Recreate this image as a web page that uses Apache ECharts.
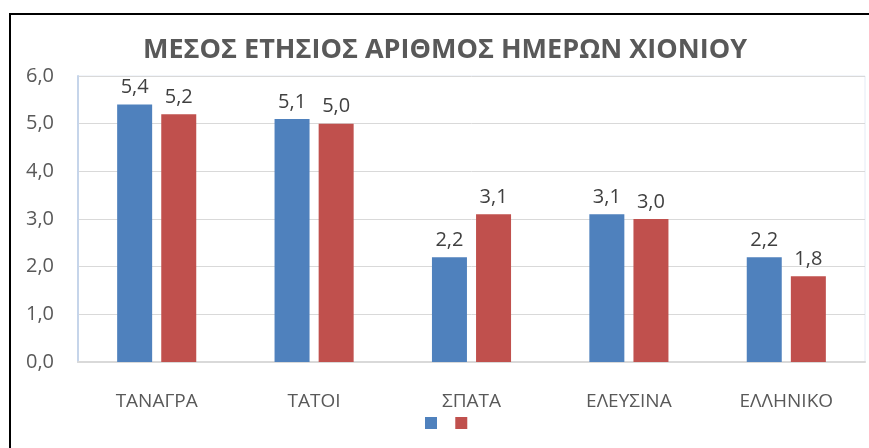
<!DOCTYPE html>
<html>
<head>
<meta charset="utf-8">
<script src="https://cdn.jsdelivr.net/npm/echarts@6/dist/echarts.min.js"></script>
<style>
  html, body { margin: 0; padding: 0; background: #fff; }
  #chart { width: 869px; height: 448px; }
</style>
</head>
<body>
<div id="chart"></div>
<script>
const categories = ['ΤΑΝΑΓΡΑ', 'ΤΑΤΟΙ', 'ΣΠΑΤΑ', 'ΕΛΕΥΣΙΝΑ', 'ΕΛΛΗΝΙΚΟ']
const seriesA = [5.4, 5.1, 2.2, 3.1, 2.2]
const seriesB = [5.2, 5.0, 3.1, 3.0, 1.8]

const font = 'Open Sans, Noto Sans, sans-serif'
const fmt = v => Number(v).toFixed(1).replace('.', ',')

const chart = echarts.init(document.getElementById('chart'))

chart.setOption({
  animation: false,
  title: {
    text: 'ΜΕΣΟΣ ΕΤΗΣΙΟΣ ΑΡΙΘΜΟΣ ΗΜΕΡΩΝ ΧΙΟΝΙΟΥ',
    left: 440,
    textAlign: 'center',
    top: 32,
    textStyle: { fontFamily: font, fontSize: 27, fontWeight: 'bold', color: '#595959' }
  },
  legend: {
    top: 412,
    left: 420,
    itemWidth: 12,
    itemHeight: 12,
    itemGap: 13,
    icon: 'rect',
    data: [{ name: ' ' }, { name: '  ' }],
    textStyle: { fontSize: 1 }
  },
  graphic: [{
    type: 'rect',
    shape: { x: 10, y: 14, width: 900, height: 500 },
    style: { fill: 'none', stroke: '#000', lineWidth: 2 },
    silent: true
  }],
  grid: {
    left: 78, right: 4, top: 76, bottom: 86,
    show: true,
    borderColor: '#e4ebf5',
    borderWidth: 1
  },
  xAxis: {
    type: 'category',
    data: categories,
    axisLine: { lineStyle: { color: '#d9d9d9', width: 2 } },
    axisTick: { show: false },
    axisLabel: { fontFamily: font, fontSize: 19, color: '#595959', margin: 30 }
  },
  yAxis: {
    type: 'value',
    min: 0, max: 6, interval: 1,
    axisLine: { show: true, lineStyle: { color: '#c6d5ea', width: 2 } },
    axisTick: { show: false },
    splitLine: { lineStyle: { color: '#d9d9d9', width: 1 } },
    axisLabel: { fontFamily: font, fontSize: 20, color: '#595959', margin: 24, formatter: fmt }
  },
  series: [
    {
      name: ' ',
      type: 'bar',
      data: seriesA,
      barWidth: 35,
      barGap: '26%',
      itemStyle: { color: '#4f81bd' },
      label: { show: true, position: 'top', distance: 7, fontFamily: font, fontSize: 20, color: '#404040', formatter: p => fmt(p.value) }
    },
    {
      name: '  ',
      type: 'bar',
      data: seriesB,
      barWidth: 35,
      itemStyle: { color: '#c0504d' },
      label: { show: true, position: 'top', distance: 7, fontFamily: font, fontSize: 20, color: '#404040', formatter: p => fmt(p.value) }
    }
  ]
})
</script>
</body>
</html>
